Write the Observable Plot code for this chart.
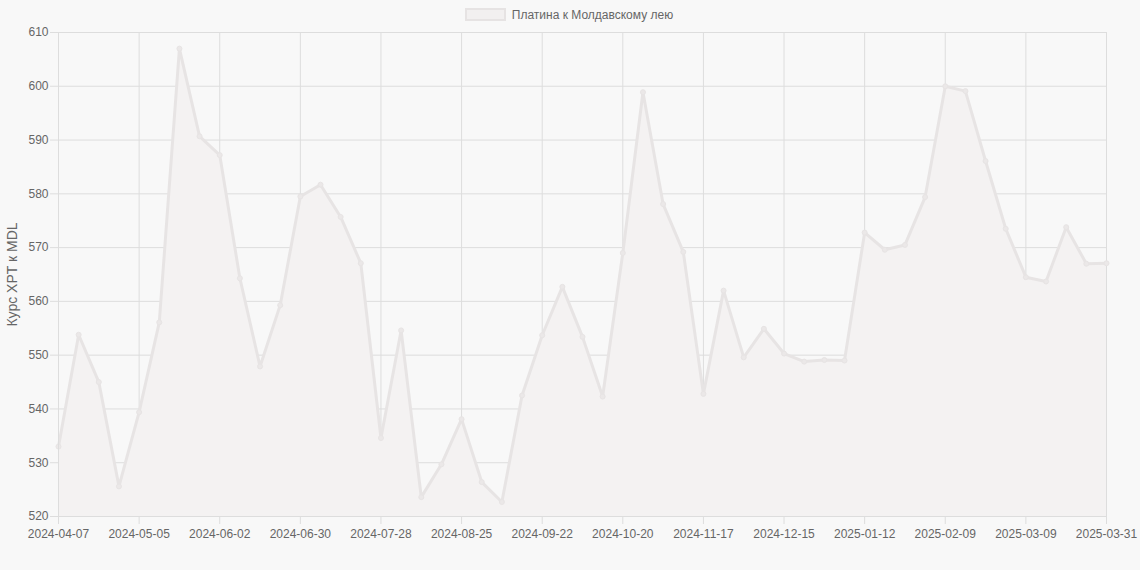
<!DOCTYPE html>
<html>
<head>
<meta charset="utf-8">
<script src="https://cdn.jsdelivr.net/npm/d3@7"></script>
<script src="https://cdn.jsdelivr.net/npm/@observablehq/plot@0.6"></script>
<style>
  html, body { margin: 0; padding: 0; background: #f8f8f8; }
  body { width: 1140px; height: 570px; overflow: hidden; font-family: "Liberation Sans", Arial, sans-serif; position: relative; }
  #legend { position: absolute; top: 0; left: 0; width: 1140px; height: 31px; display: flex; align-items: center; justify-content: center; font-size: 12px; color: #666; z-index: 2; }
  #legend .sw { width: 37px; height: 9px; background: #f2f0f0; border: 2.5px solid #e6e3e3; margin-right: 6px; box-sizing: content-box; position: relative; top: -1px; left: -1px; }
  #legend span.t { position: relative; top: -1px; left: -1px; }
  #chart { position: absolute; top: 0; left: 0; }
</style>
</head>
<body>
<div id="legend"><div class="sw"></div><span class="t">Платина к Молдавскому лею</span></div>
<div id="chart"></div>
<script>
const seriesName = "Платина к Молдавскому лею";
const yLabel = "Курс XPT к MDL";
const dates = [
  "2024-04-07","2024-04-14","2024-04-21","2024-04-28","2024-05-05","2024-05-12","2024-05-19","2024-05-26",
  "2024-06-02","2024-06-09","2024-06-16","2024-06-23","2024-06-30","2024-07-07","2024-07-14","2024-07-21",
  "2024-07-28","2024-08-04","2024-08-11","2024-08-18","2024-08-25","2024-09-01","2024-09-08","2024-09-15",
  "2024-09-22","2024-09-29","2024-10-06","2024-10-13","2024-10-20","2024-10-27","2024-11-03","2024-11-10",
  "2024-11-17","2024-11-24","2024-12-01","2024-12-08","2024-12-15","2024-12-22","2024-12-29","2025-01-05",
  "2025-01-12","2025-01-19","2025-01-26","2025-02-02","2025-02-09","2025-02-16","2025-02-23","2025-03-02",
  "2025-03-09","2025-03-16","2025-03-23","2025-03-30","2025-03-31"
];
const values = [
  533.0, 553.8, 545.0, 525.6, 539.4, 556.1, 607.0, 590.7,
  587.2, 564.3, 547.9, 559.3, 579.5, 581.7, 575.7, 567.1,
  534.6, 554.6, 523.6, 529.7, 538.1, 526.4, 522.7, 542.5,
  553.7, 562.7, 553.4, 542.3, 569.0, 598.9, 578.1, 569.2,
  542.8, 562.0, 549.6, 554.9, 550.3, 548.8, 549.1, 549.0,
  572.8, 569.6, 570.5, 579.4, 600.0, 599.1, 586.1, 573.5,
  564.5, 563.7, 573.8, 567.0, 567.1
];
const xTicks = ["2024-04-07","2024-05-05","2024-06-02","2024-06-30","2024-07-28","2024-08-25","2024-09-22",
  "2024-10-20","2024-11-17","2024-12-15","2025-01-12","2025-02-09","2025-03-09","2025-03-31"];
const yTicks = [520, 530, 540, 550, 560, 570, 580, 590, 600, 610];

const data = dates.map((d, i) => ({date: d, value: values[i]}));
const yMin = yTicks[0], yMax = yTicks[yTicks.length - 1];

const lineColor = "#e7e4e4";
const fillColor = "#f4f2f2";
const gridColor = "#dddddd";
const textColor = "#666";

const chart = Plot.plot({
  width: 1140,
  height: 570,
  marginLeft: 58,
  marginRight: 34,
  marginTop: 32,
  marginBottom: 54,
  style: {background: "transparent", fontFamily: "'Liberation Sans', Arial, sans-serif", fontSize: "12px", color: textColor, overflow: "visible"},
  x: {type: "point", domain: dates, padding: 0, round: false},
  y: {domain: [yMin, yMax]},
  marks: [
    Plot.gridX(xTicks, {stroke: gridColor, strokeOpacity: 1}),
    Plot.gridY(yTicks, {stroke: gridColor, strokeOpacity: 1}),
    Plot.areaY(data, {x: "date", y1: () => yMin, y2: "value", fill: fillColor, fillOpacity: 1, curve: "linear"}),
    Plot.line(data, {x: "date", y: "value", stroke: lineColor, strokeWidth: 3, curve: "linear"}),
    Plot.dot(data, {x: "date", y: "value", r: 2.5, fill: "#ebe8e8", stroke: lineColor, strokeWidth: 1}),
    Plot.axisX(xTicks, {tickSize: 8, tickPadding: 5, stroke: gridColor, color: textColor, fontSize: 12, label: null}),
    Plot.axisY(yTicks, {tickSize: 8, tickPadding: 2, stroke: gridColor, color: textColor, fontSize: 12, label: null}),
    Plot.axisY(yTicks, {tickSize: 0, tickFormat: () => "", stroke: "none", color: textColor, fontSize: 14,
      label: yLabel, labelAnchor: "center", labelArrow: "none", labelOffset: 51}),
    Plot.ruleY([yMin], {stroke: gridColor}),
    Plot.ruleX([dates[0]], {stroke: gridColor})
  ]
});
document.getElementById("chart").appendChild(chart);
</script>
</body>
</html>
